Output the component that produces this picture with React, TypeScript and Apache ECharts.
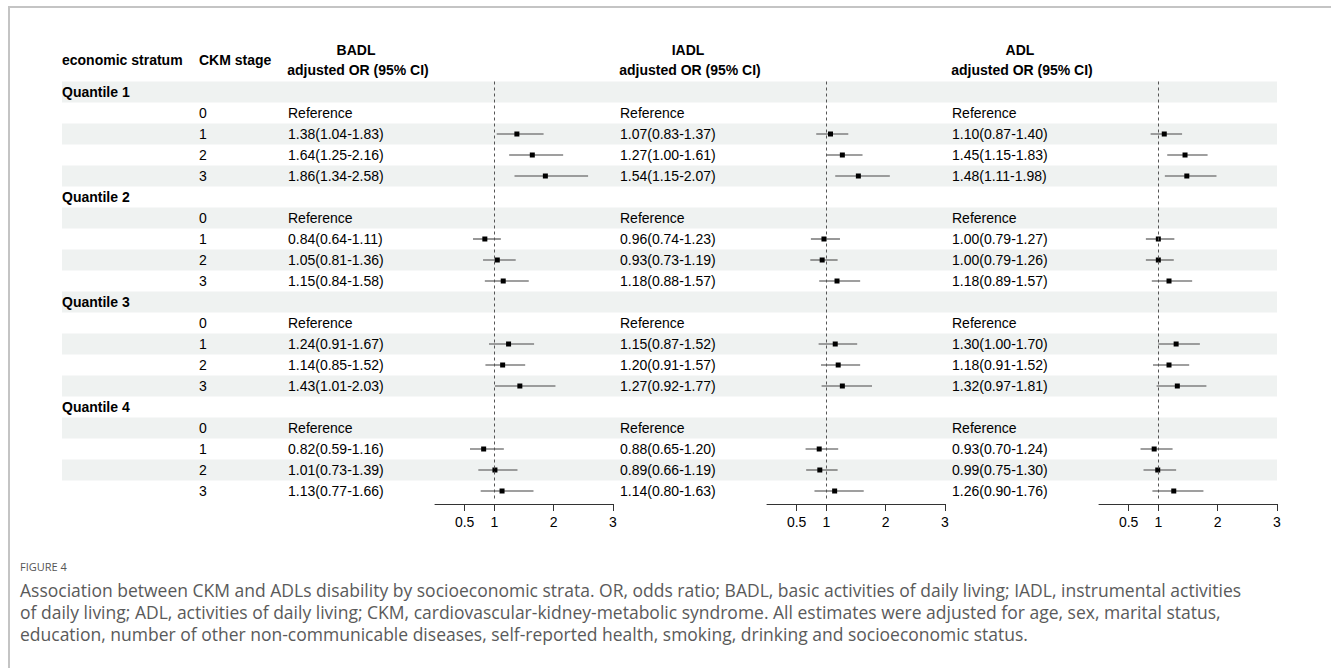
import React, { useEffect, useRef } from "react";
import * as echarts from "echarts";

// ---------- data ----------
const strata = ["Quantile 1", "Quantile 2", "Quantile 3", "Quantile 4"];
const stages = [0, 1, 2, 3];
const panels = ["BADL", "IADL", "ADL"];
// values for CKM stages 1-3 within Quantile 1..4 (stage 0 = Reference)
const badlEst = [1.38, 1.64, 1.86, 0.84, 1.05, 1.15, 1.24, 1.14, 1.43, 0.82, 1.01, 1.13];
const badlLo = [1.04, 1.25, 1.34, 0.64, 0.81, 0.84, 0.91, 0.85, 1.01, 0.59, 0.73, 0.77];
const badlHi = [1.83, 2.16, 2.58, 1.11, 1.36, 1.58, 1.67, 1.52, 2.03, 1.16, 1.39, 1.66];
const iadlEst = [1.07, 1.27, 1.54, 0.96, 0.93, 1.18, 1.15, 1.2, 1.27, 0.88, 0.89, 1.14];
const iadlLo = [0.83, 1.0, 1.15, 0.74, 0.73, 0.88, 0.87, 0.91, 0.92, 0.65, 0.66, 0.8];
const iadlHi = [1.37, 1.61, 2.07, 1.23, 1.19, 1.57, 1.52, 1.57, 1.77, 1.2, 1.19, 1.63];
const adlEst = [1.1, 1.45, 1.48, 1.0, 1.0, 1.18, 1.3, 1.18, 1.32, 0.93, 0.99, 1.26];
const adlLo = [0.87, 1.15, 1.11, 0.79, 0.79, 0.89, 1.0, 0.91, 0.97, 0.7, 0.75, 0.9];
const adlHi = [1.4, 1.83, 1.98, 1.27, 1.26, 1.57, 1.7, 1.52, 1.81, 1.24, 1.3, 1.76];
const xTicks = [0.5, 1, 2, 3];
const captionTitle = "FIGURE 4";
const captionLines = [
  "Association between CKM and ADLs disability by socioeconomic strata. OR, odds ratio; BADL, basic activities of daily living; IADL, instrumental activities",
  "of daily living; ADL, activities of daily living; CKM, cardiovascular-kidney-metabolic syndrome. All estimates were adjusted for age, sex, marital status,",
  "education, number of other non-communicable diseases, self-reported health, smoking, drinking and socioeconomic status.",
];

const panelData = [
  { est: badlEst, lo: badlLo, hi: badlHi },
  { est: iadlEst, lo: iadlLo, hi: iadlHi },
  { est: adlEst, lo: adlLo, hi: adlHi },
];

type Row = { kind: "group" | "stage"; label: string; stage?: number; idx?: number };
const rows: Row[] = [];
strata.forEach((q, qi) => {
  rows.push({ kind: "group", label: q });
  stages.forEach((s) => {
    rows.push({ kind: "stage", label: String(s), stage: s, idx: s === 0 ? -1 : qi * 3 + (s - 1) });
  });
});

const fmt = (v: number) => v.toFixed(2);
const cellText = (p: number, r: Row) => {
  if (r.kind !== "stage") return "";
  if (r.idx === -1) return "Reference";
  const d = panelData[p];
  const i = r.idx as number;
  return `${fmt(d.est[i])}(${fmt(d.lo[i])}-${fmt(d.hi[i])})`;
};

const FONT = "'Liberation Sans', Arial, sans-serif";
const CAP_FONT = "'Open Sans', 'Noto Sans', sans-serif";
const TOP = 81.5;
const ROWH = 21;
const H = ROWH * rows.length;
const TABLE_L = 62;
const TABLE_R = 1277;
const STAGE_X = 199;
const COL_X = [288, 620, 952];
const PLOT_L = [435, 767, 1099];
const PLOT_W = 178;
const CAP_X = 20;

export default function App() {
  const ref = useRef<HTMLDivElement>(null);
  useEffect(() => {
    if (!ref.current) return;
    const chart = echarts.init(ref.current, undefined, { renderer: "svg" });

    const grids: any[] = [
      { left: TABLE_L, top: TOP, width: TABLE_R - TABLE_L, height: H },
      ...PLOT_L.map((l) => ({ left: l, top: TOP, width: PLOT_W, height: H })),
    ];
    const xAxes: any[] = [
      { gridIndex: 0, type: "value", min: 0, max: 1, show: false },
      ...PLOT_L.map((_, i) => ({
        gridIndex: i + 1,
        type: "value",
        position: "bottom",
        min: 0,
        max: 3,
        offset: 2.5,
        z: 10,
        splitLine: { show: false },
        axisLine: { show: true, onZero: false, lineStyle: { color: "#333", width: 1 } },
        axisTick: { show: true, customValues: xTicks, length: 7, lineStyle: { color: "#333" } },
        axisLabel: {
          show: true,
          customValues: xTicks,
          margin: 11,
          fontSize: 14,
          color: "#000",
          fontFamily: FONT,
          formatter: (v: number) => String(v),
        },
      })),
    ];
    const yAxes: any[] = [0, 1, 2, 3].map((g) => ({
      gridIndex: g,
      type: "value",
      min: -0.5,
      max: rows.length - 0.5,
      inverse: true,
      show: false,
    }));

    const tableSeries: any = {
      type: "custom",
      xAxisIndex: 0,
      yAxisIndex: 0,
      silent: true,
      z: 1,
      data: rows.map((_, i) => [0, i]),
      renderItem: (params: any, api: any) => {
        const i = api.value(1);
        const r = rows[i];
        const pt = api.coord([0, i]);
        const y = pt[1];
        const children: any[] = [];
        if (i % 2 === 0) {
          children.push({
            type: "rect",
            shape: { x: TABLE_L, y: y - ROWH / 2, width: TABLE_R - TABLE_L, height: ROWH },
            style: { fill: "#eff2f1" },
            z2: 0,
          });
        }
        const txt = (x: number, text: string, bold = false) => ({
          type: "text",
          x,
          y,
          z2: 5,
          style: {
            text,
            fill: "#000",
            font: `${bold ? "bold " : ""}14px ${FONT}`,
            textAlign: "left",
            textVerticalAlign: "middle",
          },
        });
        if (r.kind === "group") {
          children.push(txt(TABLE_L, r.label, true));
        } else {
          children.push(txt(STAGE_X, r.label));
          COL_X.forEach((cx, p) => children.push(txt(cx, cellText(p, r))));
        }
        return { type: "group", children };
      },
    };

    const forestSeries: any[] = panelData.map((d, p) => {
      const pts: number[][] = [];
      rows.forEach((r, i) => {
        if (r.kind === "stage" && r.idx !== -1) {
          const k = r.idx as number;
          pts.push([d.est[k], i, d.lo[k], d.hi[k]]);
        }
      });
      return {
        type: "custom",
        xAxisIndex: p + 1,
        yAxisIndex: p + 1,
        silent: true,
        z: 3,
        data: pts,
        renderItem: (params: any, api: any) => {
          const row = api.value(1);
          const c = api.coord([api.value(0), row]);
          const l = api.coord([api.value(2), row]);
          const h = api.coord([api.value(3), row]);
          return {
            type: "group",
            children: [
              {
                type: "line",
                shape: { x1: l[0], y1: l[1], x2: h[0], y2: h[1] },
                style: { stroke: "#7f7f7f", lineWidth: 1.6 },
              },
              {
                type: "rect",
                shape: { x: c[0] - 2.5, y: c[1] - 2.5, width: 5, height: 5 },
                style: { fill: "#000" },
              },
            ],
          };
        },
        markLine: {
          silent: true,
          symbol: "none",
          label: { show: false },
          lineStyle: { type: [3, 3], color: "#555", width: 1 },
          data: [{ xAxis: 1 }],
        },
      };
    });

    const headerText = (x: number, y: number, text: string, align = "left") => ({
      type: "text",
      x,
      y,
      style: {
        text,
        fill: "#000",
        font: `bold 14px ${FONT}`,
        textAlign: align,
        textVerticalAlign: "middle",
      },
    });

    const graphic: any[] = [
      {
        type: "rect",
        shape: { x: 9, y: 7, width: 1500, height: 800 },
        style: { fill: "none", stroke: "#c4c4c4", lineWidth: 2 },
        silent: true,
      },
      headerText(TABLE_L, 60, "economic stratum"),
      headerText(STAGE_X, 60, "CKM stage"),
      ...panels.flatMap((name, p) => [
        headerText(COL_X[p] + 68, 50, name, "center"),
        headerText(COL_X[p] + 70, 70, "adjusted OR (95% CI)", "center"),
      ]),
      {
        type: "text",
        x: CAP_X,
        y: 566,
        style: {
          text: captionTitle,
          fill: "#555",
          font: `11px ${CAP_FONT}`,
          textVerticalAlign: "middle",
        },
      },
      ...captionLines.map((t, i) => ({
        type: "text",
        x: CAP_X,
        y: 590 + i * 22,
        style: {
          text: t,
          fill: "#5a5a5a",
          font: `17.5px ${CAP_FONT}`,
          textVerticalAlign: "middle",
        },
      })),
    ];

    chart.setOption({
      animation: false,
      backgroundColor: "#fff",
      grid: grids,
      xAxis: xAxes,
      yAxis: yAxes,
      series: [tableSeries, ...forestSeries],
      graphic,
    });
    return () => chart.dispose();
  }, []);

  return (
    <div
      ref={ref}
      style={{ position: "absolute", left: 0, top: 0, width: 1331, height: 668 }}
    />
  );
}
